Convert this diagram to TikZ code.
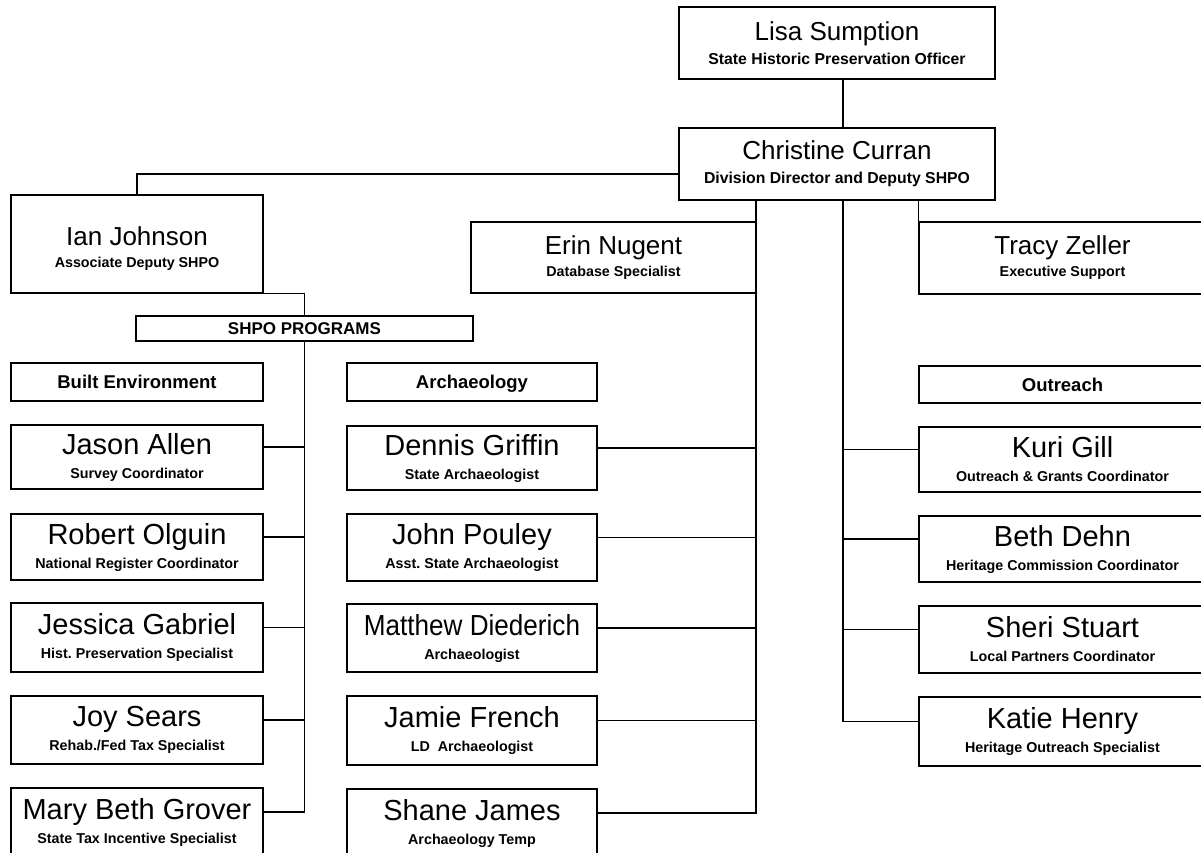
\documentclass[tikz,border=0pt]{standalone}
\usepackage{fontspec}
\usepackage{graphicx}
\setmainfont{Liberation Sans}
\frenchspacing
\newcommand\psnName[1]{{\fontsize{29}{24}\mdseries\selectfont #1}}
\newcommand\psnTop[1]{{\fontsize{26}{24}\mdseries\selectfont #1}}
\begin{document}
\begin{tikzpicture}[x=1pt,y=-1pt,
  orgbox/.style={draw, line width=1.3pt, inner sep=0pt, align=center,
    minimum width=#1},
  topbox/.style={orgbox=316, minimum height=72,
    font=\fontsize{15.8}{24}\bfseries\selectfont},
  midbox/.style={orgbox=#1, font=\fontsize{14.3}{22}\bfseries\selectfont},
  colbox/.style={orgbox=#1, font=\fontsize{14.3}{24}\bfseries\selectfont},
  headbox/.style={orgbox=#1, text height=13.2pt, text depth=0pt,
    font=\fontsize{18.5}{20}\bfseries\selectfont},
  link/.style={line width=1.1pt}]
\useasboundingbox (0,0) rectangle (1201,852);
\fill[white] (0,0) rectangle (1201,852);
\clip (0,0) rectangle (1201,852);

% bus positions
\coordinate (spineM) at (756,0);
\coordinate (spineR) at (843,0);

% leadership
\node[topbox] (lisa) at (837,43) {\psnTop{Lisa Sumption}\\State Historic Preservation Officer};
\node[topbox] (christine) at (837,164) {\psnTop{Christine Curran}\\Division Director and Deputy SHPO};
\node[midbox=252, minimum height=98, text height=49pt, text depth=3pt] (ian) at (137,244) {\psnTop{Ian Johnson}\\Associate Deputy SHPO};
\node[midbox=285, minimum height=71] (erin) at (613.5,257.5) {\psnTop{Erin Nugent}\\Database Specialist};
\node[midbox=287, minimum height=72] (tracy) at (1062.5,258) {\psnTop{Tracy Zeller}\\Executive Support};

% program headings
\node[orgbox=337, minimum height=25, text height=12.2pt, text depth=0pt,
  font=\fontsize{17}{18}\bfseries\selectfont] (prog) at (304.5,328.5) {SHPO PROGRAMS};
\node[headbox=252, minimum height=38] (built) at (137,382) {Built Environment};
\node[headbox=250, minimum height=38] (arch) at (472,382) {Archaeology};
\node[headbox=287, minimum height=37] (outreach) at (1062.5,384.5) {Outreach};

% built environment staff
\node[colbox=252, minimum height=64] (jason) at (137,457) {\psnName{Jason Allen}\\Survey Coordinator};
\node[colbox=252, minimum height=66] (robert) at (137,547) {\psnName{Robert Olguin}\\National Register Coordinator};
\node[colbox=252, minimum height=69] (jessica) at (137,637.5) {\psnName{Jessica Gabriel}\\Hist. Preservation Specialist};
\node[colbox=252, minimum height=68] (joy) at (137,730) {\psnName{Joy Sears}\\Rehab./Fed Tax Specialist};
\node[colbox=252, minimum height=68] (marybeth) at (137,822) {\psnName{Mary Beth Grover}\\State Tax Incentive Specialist};

% archaeology staff
\node[colbox=250, minimum height=64] (dennis) at (472,458) {\psnName{Dennis Griffin}\\State Archaeologist};
\node[colbox=250, minimum height=67] (john) at (472,547.5) {\psnName{John Pouley}\\Asst. State Archaeologist};
\node[colbox=250, minimum height=68] (matthew) at (472,638) {\psnName{\scalebox{0.9}[1]{Matthew Diederich}}\\Archaeologist};
\node[colbox=250, minimum height=69] (jamie) at (472,730.5) {\psnName{Jamie French}\\LD\ \ Archaeologist};
\node[colbox=250, minimum height=68] (shane) at (472,823) {\psnName{Shane James}\\Archaeology Temp};

% outreach staff
\node[colbox=287, minimum height=65] (kuri) at (1062.5,459.5) {\psnName{Kuri Gill}\\Outreach \& Grants Coordinator};
\node[colbox=287, minimum height=66] (beth) at (1062.5,549) {\psnName{Beth Dehn}\\Heritage Commission Coordinator};
\node[colbox=287, minimum height=67] (sheri) at (1062.5,639.5) {\psnName{Sheri Stuart}\\Local Partners Coordinator};
\node[colbox=287, minimum height=69] (katie) at (1062.5,731.5) {\psnName{Katie Henry}\\Heritage Outreach Specialist};

% link points on the box sides
\foreach \n in {jason,robert,jessica,joy,marybeth,dennis,john,matthew,jamie,shane}
  \coordinate (\n L) at ([yshift=10pt]\n.east);
\foreach \n in {kuri,beth,sheri,katie}
  \coordinate (\n L) at ([yshift=10pt]\n.west);

% reporting lines
\draw[link] (lisa.south -| spineR) -- (christine.north -| spineR);
\draw[link] ([yshift=-10pt]christine.west) -| (ian.north);
\draw[link] (ian.south east) -| (prog.north);
\draw[link] (tracy.north west) -- (tracy.north west |- christine.south);

\draw[link] (prog.south) |- (marybethL);
\foreach \n in {jason,robert,jessica,joy}
  \draw[link] (\n L) -- (\n L -| prog.south);

\draw[link] (christine.south -| spineM) |- (shaneL);
\foreach \n in {dennis,john,matthew,jamie}
  \draw[link] (\n L) -- (\n L -| spineM);

\draw[link] (christine.south -| spineR) |- (katieL);
\foreach \n in {kuri,beth,sheri}
  \draw[link] (\n L) -- (\n L -| spineR);
\end{tikzpicture}
\end{document}
